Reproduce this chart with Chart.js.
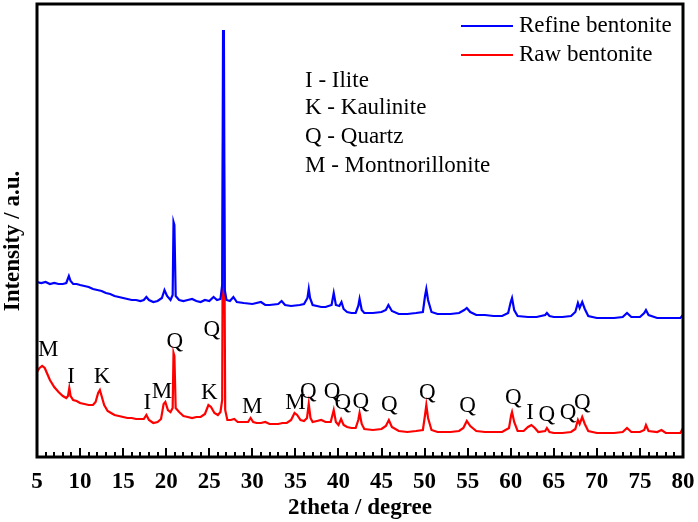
<!DOCTYPE html>
<html><head><meta charset="utf-8">
<script src="https://cdn.jsdelivr.net/npm/chart.js@4/dist/chart.umd.min.js"></script>
<style>html,body{margin:0;padding:0;background:#fff}canvas{display:block}</style>
</head><body>
<canvas id="c" width="698" height="522"></canvas>
<script>
// ---- data (2theta in degree, intensity in arbitrary units) ----
const seriesNames = ['Refine bentonite', 'Raw bentonite'];

const refineX = [5.0,5.5,6.0,6.5,7.0,7.5,8.0,8.4,8.7,8.9,9.2,9.6,10,10.5,11,11.5,12,12.5,13,13.5,14,14.5,15,15.5,16,16.5,17,17.4,17.7,18.0,18.5,19.0,19.5,19.8,20.1,20.5,20.75,20.85,20.95,21.1,21.5,22,22.5,23,23.5,24,24.5,25,25.5,25.9,26.3,26.5,26.6,26.7,26.8,27.0,27.4,27.8,28.2,29,30,31,31.5,32,33,33.4,33.8,34.5,35.5,36.0,36.4,36.55,36.7,37.0,37.5,38,38.5,39.2,39.45,39.7,40.1,40.35,40.6,41,41.5,42.0,42.3,42.45,42.7,43,44,45,45.5,45.8,46.2,47,48,49,49.8,50.05,50.2,50.4,50.8,51.5,52,53,54,54.6,54.9,55.3,56,57,58,59,59.7,60.0,60.15,60.4,60.8,62,63,64,64.2,64.5,65,66,67,67.5,67.8,68.0,68.3,68.6,69,70,71,72,73,73.5,74,75,75.5,75.7,76,77,78,79,79.7,80];
const refineY = [175,174,175,173,174,173,173,174,181,176,173,173,172,171,170,168,167,166,164,163,161,160,159,158,157,157,156,157,160,157,155,156,159,167,161,157,162,235,232,161,157,156,157,158,156,155,157,156,160,157,158,172,427,417,167,157,156,160,155,154,153,155,152,152,153,156,152,151,152,153,159,168,159,152,151,150,150,152,164,152,151,155,148,145,144,144,151,158,147,144,144,145,147,152,146,143,143,144,145,161,168,157,145,143,143,143,144,147,149,145,142,142,141,141,144,155,159,147,141,140,140,142,144,141,140,140,141,145,154,149,155,148,141,139,139,139,140,144,140,140,144,147,142,139,139,139,139,142];

const rawX = [5.0,5.3,5.6,5.9,6.2,6.5,7.0,7.5,8.0,8.4,8.6,8.75,8.9,9.2,9.6,10,10.5,11,11.5,11.8,12.1,12.3,12.5,12.8,13.2,13.6,14,14.5,15,15.5,16,16.5,17,17.4,17.7,18.0,18.5,19.0,19.4,19.7,19.9,20.2,20.5,20.75,20.85,20.95,21.1,21.5,22,22.5,23,23.5,24,24.5,24.9,25.2,25.6,26.0,26.3,26.5,26.6,26.7,26.85,27.1,27.5,27.9,28.3,29,29.5,29.8,30.1,30.5,31,31.5,32,33,33.5,34,34.5,34.9,35.2,35.6,36,36.35,36.55,36.75,37,37.5,38,38.5,39.1,39.45,39.7,40.0,40.3,40.6,41,41.5,42.0,42.3,42.45,42.7,43,44,45,45.5,45.85,46.2,47,48,49,49.8,50.05,50.2,50.4,50.8,51.5,52,53,54,54.5,54.9,55.3,56,57,58,59,59.8,60.05,60.15,60.4,60.8,61.5,62.0,62.4,62.8,63.2,64,64.2,64.5,65,66,67,67.5,67.8,68.0,68.3,68.6,69,70,71,72,73,73.5,74,75,75.5,75.7,76,77,77.5,78,79,79.7,80];
const rawY = [85,89,91,89,83,77,70,65,61,59,61,69,61,57,56,54,53,52,52,55,64,67,61,52,46,44,42,41,40,39,39,38,38,38,42,37,34,35,38,53,55,47,45,49,104,101,49,45,41,40,39,40,40,43,52,50,44,42,45,57,314,297,47,37,37,38,35,35,35,39,35,34,34,35,33,33,34,34,37,44,42,37,36,39,53,39,35,36,37,35,35,47,35,32,38,32,30,29,29,37,44,33,28,27,28,31,37,30,26,25,26,27,42,52,39,27,25,25,25,26,29,36,31,26,25,25,25,29,42,45,35,26,26,30,32,29,25,26,29,25,24,24,25,28,37,33,40,33,26,24,24,24,25,29,25,25,27,32,26,25,27,24,24,24,29];

// phase labels over the raw-bentonite peaks
const peakLabels = ['M','I','K','I','M','Q','K','Q','M','M','Q','Q','Q','Q','Q','Q','Q','Q','I','Q','Q','Q'];
const peakX = [6.3,8.95,12.55,17.8,19.5,21.0,25.0,25.3,30.0,35.0,36.5,39.25,40.5,42.6,45.9,50.3,55.0,60.3,62.25,64.2,66.65,68.3];
const peakY = [107,80,80,54,65,115,64,127,50,54,65,65,54,55,52,64,51,59,44,42,44,54];

const phaseKey = ['I - Ilite', 'K - Kaulinite', 'Q - Quartz', 'M - Montnorillonite'];

const xTitle = '2theta / degree';
const yTitle = 'Intensity / a.u.';

const X_MIN = 5, X_MAX = 80, Y_MIN = 0, Y_MAX = 453;

const SERIF = '"Liberation Serif", "Times New Roman", serif';
const FS = 23;

const toPts = (xs, ys) => xs.map((x, i) => ({x: x, y: ys[i]}));

const decorPlugin = {
  id: 'decor',
  afterDraw(chart) {
    const ctx = chart.ctx, a = chart.chartArea;
    const xs = chart.scales.x, ys = chart.scales.y;
    ctx.save();
    // tick marks pointing inward
    ctx.strokeStyle = '#000';
    ctx.lineWidth = 2;
    xs.ticks.forEach(t => {
      const px = Math.round(xs.getPixelForValue(t.value));
      const len = (t.value % 5 === 0) ? 9 : 5;
      ctx.beginPath();
      ctx.moveTo(px, a.bottom);
      ctx.lineTo(px, a.bottom - len);
      ctx.stroke();
    });
    // frame
    ctx.lineWidth = 3;
    ctx.strokeRect(a.left, a.top, a.right - a.left, a.bottom - a.top);
    // y axis title
    ctx.fillStyle = '#000';
    ctx.font = 'bold ' + FS + 'px ' + SERIF;
    ctx.textAlign = 'center';
    ctx.textBaseline = 'middle';
    ctx.save();
    ctx.translate(13, 241);
    ctx.rotate(-Math.PI / 2);
    ctx.fillText(yTitle, 0, 0);
    ctx.restore();
    // peak labels
    ctx.font = FS + 'px ' + SERIF;
    peakLabels.forEach((s, i) => {
      ctx.fillText(s, xs.getPixelForValue(peakX[i]), ys.getPixelForValue(peakY[i]));
    });
    // phase key
    ctx.textAlign = 'left';
    const keyTop = [81, 108, 137, 166];
    phaseKey.forEach((s, i) => ctx.fillText(s, 305, keyTop[i]));
    // legend
    const legY = [26, 55];
    chart.data.datasets.forEach((ds, i) => {
      ctx.strokeStyle = ds.borderColor;
      ctx.lineWidth = 2;
      ctx.beginPath();
      ctx.moveTo(461, legY[i]);
      ctx.lineTo(513, legY[i]);
      ctx.stroke();
      ctx.fillStyle = '#000';
      ctx.fillText(ds.label, 519, legY[i]);
    });
    ctx.restore();
  }
};

new Chart(document.getElementById('c'), {
  type: 'line',
  data: {
    datasets: [
      {label: seriesNames[0], data: toPts(refineX, refineY), borderColor: '#0000ff', borderWidth: 2.2, pointRadius: 0, tension: 0},
      {label: seriesNames[1], data: toPts(rawX, rawY), borderColor: '#ff0000', borderWidth: 2.2, pointRadius: 0, tension: 0}
    ]
  },
  options: {
    responsive: false,
    animation: false,
    devicePixelRatio: 1,
    layout: {padding: {left: 0, top: 4, right: 15, bottom: 0}},
    plugins: {legend: {display: false}, tooltip: {enabled: false}},
    scales: {
      x: {
        type: 'linear', min: X_MIN, max: X_MAX,
        grid: {display: false, drawTicks: false},
        border: {display: false},
        ticks: {
          stepSize: 1, autoSkip: false, maxRotation: 0, padding: 11,
          color: '#000', font: {family: SERIF, size: FS, weight: 'bold'},
          callback: v => (v % 5 === 0 ? String(v) : '')
        },
        title: {display: true, text: xTitle, color: '#000',
          font: {family: SERIF, size: FS, weight: 'bold'}, padding: {top: 0, bottom: 0}},
        afterFit: s => { s.height = 65; s.paddingLeft = 0; s.paddingRight = 0; }
      },
      y: {
        min: Y_MIN, max: Y_MAX,
        grid: {display: false, drawTicks: false},
        border: {display: false},
        ticks: {display: false},
        title: {display: false},
        afterFit: s => { s.width = 37; s.paddingTop = 0; s.paddingBottom = 0; }
      }
    }
  },
  plugins: [decorPlugin]
});
</script>
</body></html>
